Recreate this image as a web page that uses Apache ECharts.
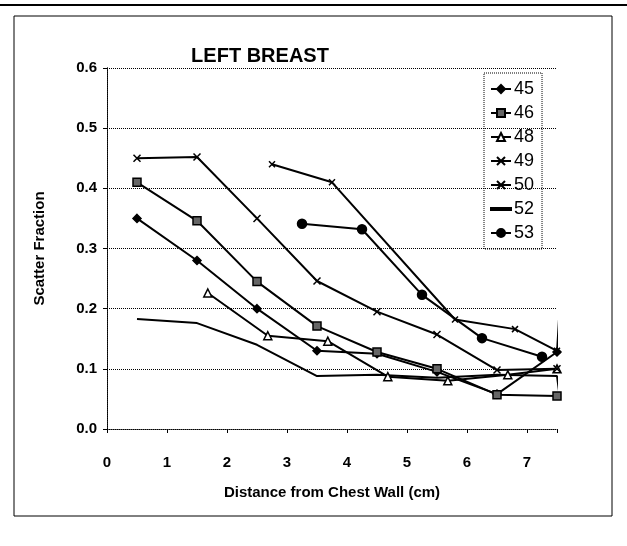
<!DOCTYPE html>
<html>
<head>
<meta charset="utf-8">
<script src="https://cdn.jsdelivr.net/npm/echarts@6/dist/echarts.min.js"></script>
<style>
  html, body { margin: 0; padding: 0; background: #fff; }
  #chart { width: 627px; height: 546px; }
</style>
</head>
<body>
<div id="chart"></div>
<script>
// values
const seriesNames = ["45", "46", "48", "49", "50", "52", "53"];

const x45 = [0.5, 1.5, 2.5, 3.5, 4.5, 5.5, 6.5, 7.5, 7.55];
const y45 = [0.35, 0.28, 0.2, 0.13, 0.125, 0.095, 0.058, 0.128, 0.21];

const x46 = [0.5, 1.5, 2.5, 3.5, 4.5, 5.5, 6.5, 7.5];
const y46 = [0.41, 0.346, 0.245, 0.171, 0.128, 0.1, 0.057, 0.055];

const x48 = [1.68, 2.68, 3.68, 4.68, 5.68, 6.68, 7.5];
const y48 = [0.226, 0.155, 0.146, 0.087, 0.08, 0.09, 0.1];

const x49 = [0.5, 1.5, 2.5, 3.5, 4.5, 5.5, 6.5, 7.5];
const y49 = [0.45, 0.452, 0.35, 0.246, 0.195, 0.157, 0.098, 0.1];

const x50 = [2.75, 3.75, 5.8, 6.8, 7.5];
const y50 = [0.44, 0.41, 0.182, 0.166, 0.13];

const x52 = [0.5, 1.5, 2.5, 3.5, 4.5, 5.5, 6.5, 7.5, 7.55];
const y52 = [0.183, 0.176, 0.14, 0.088, 0.09, 0.085, 0.09, 0.088, 0.05];

const x53 = [3.25, 4.25, 5.25, 6.25, 7.25];
const y53 = [0.341, 0.332, 0.223, 0.151, 0.12];

const xTicks = [0, 1, 2, 3, 4, 5, 6, 7];
const xMax = 7.5;

// points just past the axis end are drawn as line only (no marker)
function pairs(xs, ys) {
  return xs.map((x, i) =>
    x > xMax ? { value: [x, ys[i]], symbol: "none" } : [x, ys[i]]
  );
}

const font = "Liberation Sans";
const xPath = "path://M0,0L10,10M10,0L0,10";

const seriesData = [
  { name: "45", data: pairs(x45, y45), symbol: "diamond", symbolSize: 8, fill: "#000" },
  { name: "46", data: pairs(x46, y46), symbol: "rect", symbolSize: 8, fill: "#666" },
  { name: "48", data: pairs(x48, y48), symbol: "triangle", symbolSize: 8, fill: "#fff" },
  { name: "49", data: pairs(x49, y49), symbol: xPath, symbolSize: 7, fill: "#000" },
  { name: "50", data: pairs(x50, y50), symbol: xPath, symbolSize: 6, fill: "#000" },
  { name: "52", data: pairs(x52, y52), symbol: "none", symbolSize: 0, fill: "#000" },
  { name: "53", data: pairs(x53, y53), symbol: "circle", symbolSize: 9, fill: "#000" },
];

const chart = echarts.init(document.getElementById("chart"));

const option = {
  backgroundColor: "#fff",
  animation: false,
  title: {
    text: "LEFT BREAST",
    left: 255,
    top: 41,
    textAlign: "center",
    textStyle: { fontFamily: font, fontWeight: "bold", fontSize: 20, color: "#000" },
  },
  legend: {
    orient: "vertical",
    left: 484,
    top: 73,
    padding: [7, 8, 7, 6],
    itemGap: 6,
    itemWidth: 20,
    itemHeight: 10,
    borderColor: "#000",
    borderWidth: 1,
    borderType: "dotted",
    data: seriesNames.map((n) =>
      n === "52" ? { name: n, icon: "path://M0,0L20,0L20,2L0,2Z" } : n
    ),
    textStyle: { fontFamily: font, fontSize: 18, color: "#000", padding: [0, 0, 0, -2] },
  },
  grid: {
    left: 107,
    top: 68,
    right: 70,
    bottom: 117,
  },
  xAxis: [
    {
      type: "value",
      min: 0,
      max: xMax,
      interval: 1,
      name: "Distance from Chest Wall (cm)",
      nameLocation: "middle",
      nameGap: 56,
      nameTextStyle: { fontFamily: font, fontWeight: "bold", fontSize: 15, color: "#000" },
      axisLine: { lineStyle: { color: "#000", type: "dotted", width: 1 } },
      axisTick: { show: true, length: 4, lineStyle: { color: "#000" } },
      axisLabel: {
        margin: 26,
        fontFamily: font,
        fontWeight: "bold",
        fontSize: 15,
        color: "#000",
        formatter: (v) => (xTicks.includes(v) ? String(v) : ""),
      },
      splitLine: { show: false },
    },
    {
      type: "value",
      position: "top",
      min: 0,
      max: xMax,
      axisLine: { show: false },
      axisTick: { show: false },
      axisLabel: { show: false },
      splitLine: { show: false },
    },
  ],
  yAxis: [
    {
      type: "value",
      min: 0,
      max: 0.6,
      interval: 0.1,
      name: "Scatter Fraction",
      nameLocation: "middle",
      nameGap: 60,
      nameTextStyle: { fontFamily: font, fontWeight: "bold", fontSize: 15, color: "#000" },
      axisLine: { show: true, lineStyle: { color: "#000", type: "dotted", width: 1 } },
      axisTick: { show: true, length: 4, lineStyle: { color: "#000" } },
      axisLabel: {
        margin: 10,
        fontFamily: font,
        fontWeight: "bold",
        fontSize: 15,
        color: "#000",
        formatter: (v) => v.toFixed(1),
      },
      splitLine: { show: true, lineStyle: { color: "#000", type: "dotted", width: 1 } },
    },
    {
      type: "value",
      position: "right",
      min: 0,
      max: 0.6,
      axisLine: { show: true, lineStyle: { color: "#000", type: "dotted", width: 1 } },
      axisTick: { show: false },
      axisLabel: { show: false },
      splitLine: { show: false },
    },
  ],
  series: seriesData.map((s) => ({
    name: s.name,
    type: "line",
    data: s.data,
    clip: false,
    symbol: s.symbol,
    symbolSize: s.symbolSize,
    showSymbol: s.symbol !== "none",
    lineStyle: { color: "#000", width: 2 },
    itemStyle: { color: s.fill, borderColor: "#000", borderWidth: 1.5 },
  })),
  graphic: [
    {
      type: "line",
      shape: { x1: 0, y1: 5, x2: 627, y2: 5 },
      style: { stroke: "#000", lineWidth: 2 },
    },
    {
      type: "rect",
      shape: { x: 14, y: 16, width: 598, height: 500 },
      style: { fill: "none", stroke: "#000", lineWidth: 1 },
      z: -1,
    },
  ],
};

chart.setOption(option);
</script>
</body>
</html>
